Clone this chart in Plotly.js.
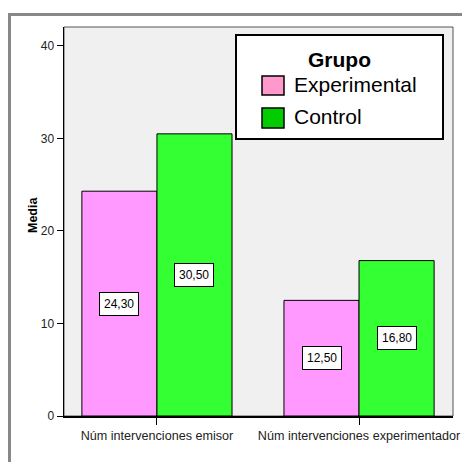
<!DOCTYPE html>
<html>
<head>
<meta charset="utf-8">
<script src="https://cdn.plot.ly/plotly-3.0.1.min.js"></script>
<style>
  html, body { margin: 0; padding: 0; background: #ffffff; }
  #chart { width: 462px; height: 462px; }
</style>
</head>
<body>
<div id="chart"></div>
<script>
// Mean number of interventions by group
const categories = ['Núm intervenciones emisor', 'Núm intervenciones experimentador'];
const groupNames = ['Experimental', 'Control'];
const experimentalValues = [24.30, 12.50];
const controlValues = [30.50, 16.80];
const yTicks = [0, 10, 20, 30, 40];

const barColors = ['#ff99ff', '#33ff33'];
const swatchColors = ['#ff99cc', '#00cc00'];

// Plot frame in pixels
const W = 462, H = 462;
const L = 64, R = 9, T = 27, B = 46;
const PW = W - L - R, PH = H - T - B;
const px = x => (x - L) / PW;
const py = y => (H - B - y) / PH;

const fmt = v => v.toFixed(2).replace('.', ',');
const FONT = 'Liberation Sans, Arial, sans-serif';

const series = [experimentalValues, controlValues];
const traces = series.map((vals, i) => ({
  type: 'bar',
  name: groupNames[i],
  x: categories,
  y: vals,
  marker: { color: barColors[i], line: { color: '#000000', width: 1 } },
  hoverinfo: 'skip',
  showlegend: false
}));

// Value labels in boxes at mid-height of each bar
const barHalfPx = 37.5;
const annotations = [];
series.forEach((vals, i) => {
  vals.forEach((v, j) => {
    annotations.push({
      x: categories[j], y: v / 2, xref: 'x', yref: 'y',
      xanchor: 'center', yanchor: 'middle',
      xshift: (i === 0 ? -1 : 1) * barHalfPx,
      text: fmt(v), showarrow: false,
      font: { family: FONT, size: 12, color: '#000' },
      bgcolor: '#ffffff', bordercolor: '#000000', borderwidth: 1, borderpad: 4
    });
  });
});

// Legend box content
annotations.push({
  x: px(339.5), y: py(60), xref: 'paper', yref: 'paper',
  xanchor: 'center', yanchor: 'middle',
  text: '<b>Grupo</b>', showarrow: false,
  font: { family: FONT, size: 21, color: '#000' }
});
const legendRowsY = [84, 116];
groupNames.forEach((name, i) => {
  annotations.push({
    x: px(292), y: py(legendRowsY[i]), xref: 'paper', yref: 'paper',
    xanchor: 'left', yanchor: 'middle',
    text: name, showarrow: false,
    font: { family: FONT, size: 21, color: '#000' }
  });
});

// Axis title
annotations.push({
  x: px(33), y: py(215), xref: 'paper', yref: 'paper',
  xanchor: 'center', yanchor: 'middle',
  text: '<b>Media</b>', textangle: -90, showarrow: false,
  font: { family: FONT, size: 12.5, color: '#000' }
});

const shapes = [
  // outer frame
  { type: 'rect', xref: 'paper', yref: 'paper', x0: px(9.5), x1: px(520), y0: py(520), y1: py(14.5),
    line: { color: '#888888', width: 3 }, fillcolor: 'rgba(0,0,0,0)' },
  // plot area border (top/right)
  { type: 'rect', xref: 'paper', yref: 'paper', x0: 0, x1: 1, y0: 0, y1: 1,
    line: { color: '#555555', width: 1 }, fillcolor: 'rgba(0,0,0,0)', layer: 'below' },
  // legend box
  { type: 'rect', xref: 'paper', yref: 'paper', x0: px(236), x1: px(443), y0: py(139), y1: py(35),
    line: { color: '#000000', width: 2 }, fillcolor: '#ffffff' }
];
const swatchBox = [[76, 95], [108, 128]];
groupNames.forEach((name, i) => {
  shapes.push({
    type: 'rect', xref: 'paper', yref: 'paper',
    x0: px(262), x1: px(284), y0: py(swatchBox[i][1]), y1: py(swatchBox[i][0]),
    line: { color: '#000000', width: 1.5 }, fillcolor: swatchColors[i]
  });
});

const layout = {
  width: W, height: H,
  margin: { l: L, r: R, t: T, b: B, pad: 0 },
  paper_bgcolor: '#ffffff',
  plot_bgcolor: '#f0f0f0',
  barmode: 'group',
  bargap: 0.257,
  bargroupgap: 0,
  showlegend: false,
  font: { family: FONT, size: 12, color: '#222' },
  xaxis: {
    type: 'category',
    range: [-0.46, 1.465],
    showline: true, linecolor: '#000', linewidth: 1.5,
    ticks: 'outside', ticklen: 7, tickcolor: '#000', tickwidth: 1,
    tickfont: { size: 12.6, color: '#222' },
    showgrid: false, zeroline: false, fixedrange: true
  },
  yaxis: {
    range: [0, 42.05],
    tickvals: yTicks,
    ticktext: yTicks.map(String),
    showline: true, linecolor: '#000', linewidth: 1.5,
    ticks: 'outside', ticklen: 6, tickcolor: '#000', tickwidth: 1,
    tickfont: { size: 12, color: '#222' },
    showgrid: false, zeroline: false, fixedrange: true
  },
  shapes: shapes,
  annotations: annotations
};

Plotly.newPlot('chart', traces, layout, { displayModeBar: false, staticPlot: true });
</script>
</body>
</html>
